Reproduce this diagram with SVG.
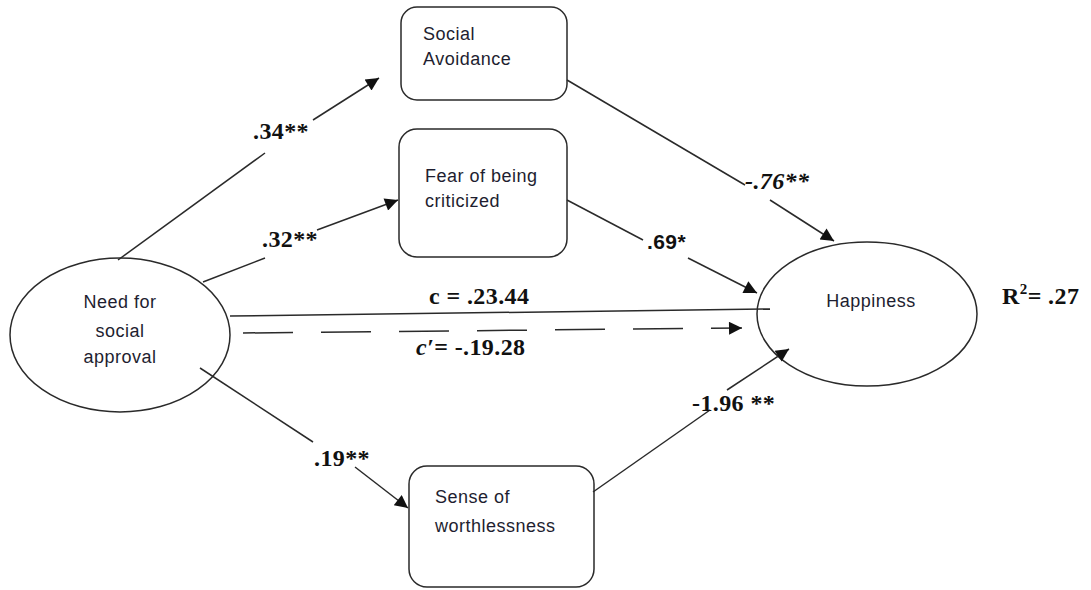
<svg xmlns="http://www.w3.org/2000/svg" width="1091" height="590" viewBox="0 0 1091 590">
<style>
.node{fill:#fff;stroke:#2a2a2a;stroke-width:1.5}
.lbl{font-family:"Liberation Sans",Arial,sans-serif;font-size:18px;fill:#1e1e30;letter-spacing:0.5px}
.num{font-family:"Liberation Serif","Times New Roman",serif;font-size:24px;font-weight:bold;fill:#111;letter-spacing:0.4px}
.ln{stroke:#2a2a2a;stroke-width:1.5;fill:none}
</style>
<defs>
<marker id="ah" viewBox="0 0 10 10" refX="10" refY="5" markerWidth="16" markerHeight="13" markerUnits="userSpaceOnUse" orient="auto">
<path d="M0,0 L10,5 L0,10 z" fill="#111"/>
</marker>
</defs>
<rect width="1091" height="590" fill="#fff"/>
<g id="need">
<ellipse class="node" cx="120" cy="335" rx="110" ry="77"/>
<text class="lbl" text-anchor="middle" x="120" y="308">Need for</text>
<text class="lbl" text-anchor="middle" x="120" y="337">social</text>
<text class="lbl" text-anchor="middle" x="120" y="363">approval</text>
</g>
<g id="happiness">
<ellipse class="node" cx="867" cy="314" rx="110" ry="72"/>
<text class="lbl" text-anchor="middle" x="871" y="307">Happiness</text>
</g>
<g id="avoidance">
<rect class="node" x="401" y="7" width="166" height="93" rx="16"/>
<text class="lbl" x="423" y="40">Social</text>
<text class="lbl" x="423" y="65">Avoidance</text>
</g>
<g id="fear">
<rect class="node" x="399" y="129" width="168" height="128" rx="18"/>
<text class="lbl" x="425" y="182">Fear of being</text>
<text class="lbl" x="425" y="207">criticized</text>
</g>
<g id="worth">
<rect class="node" x="409" y="466" width="185" height="121" rx="18"/>
<text class="lbl" x="435" y="503">Sense of</text>
<text class="lbl" x="435" y="532">worthlessness</text>
</g>
<g id="connectors">
<line class="ln" x1="118" y1="260" x2="265" y2="153"/>
<line class="ln" x1="313" y1="120" x2="379" y2="78" marker-end="url(#ah)"/>
<line class="ln" x1="203" y1="282" x2="265" y2="258"/>
<line class="ln" x1="317" y1="230" x2="398" y2="200" marker-end="url(#ah)"/>
<line class="ln" x1="230" y1="316" x2="770" y2="309"/>
<line class="ln" x1="243" y1="333" x2="742" y2="328" stroke-dasharray="50,28" marker-end="url(#ah)"/>
<line class="ln" x1="200" y1="368" x2="313" y2="442"/>
<line class="ln" x1="355" y1="467" x2="408" y2="508" marker-end="url(#ah)"/>
<line class="ln" x1="567" y1="80" x2="745" y2="185"/>
<line class="ln" x1="770" y1="200" x2="834" y2="241" marker-end="url(#ah)"/>
<line class="ln" x1="567" y1="200" x2="643" y2="240"/>
<line class="ln" x1="688" y1="258" x2="757" y2="293" marker-end="url(#ah)"/>
<line class="ln" x1="593" y1="492" x2="710" y2="410"/>
<line class="ln" x1="727" y1="390" x2="789" y2="349" marker-end="url(#ah)"/>
<text class="num" x="253" y="139">.34**</text>
<text class="num" x="262" y="247">.32**</text>
<text class="num" x="429" y="304">c = .23.44</text>
<text class="num" x="416" y="355"><tspan font-style="italic">c′</tspan>= -.19.28</text>
<text class="num" x="314" y="466">.19**</text>
<text class="num" x="745" y="189" font-style="italic">-.76**</text>
<text class="num" x="647" y="249" style="font-family:'Liberation Sans',Arial,sans-serif;font-size:21px">.69*</text>
<text class="num" x="692" y="411">-1.96 **</text>
<text class="num" x="1002" y="304">R<tspan font-size="15" dy="-10">2</tspan><tspan dy="10">= .27</tspan></text>
</g>
</svg>
